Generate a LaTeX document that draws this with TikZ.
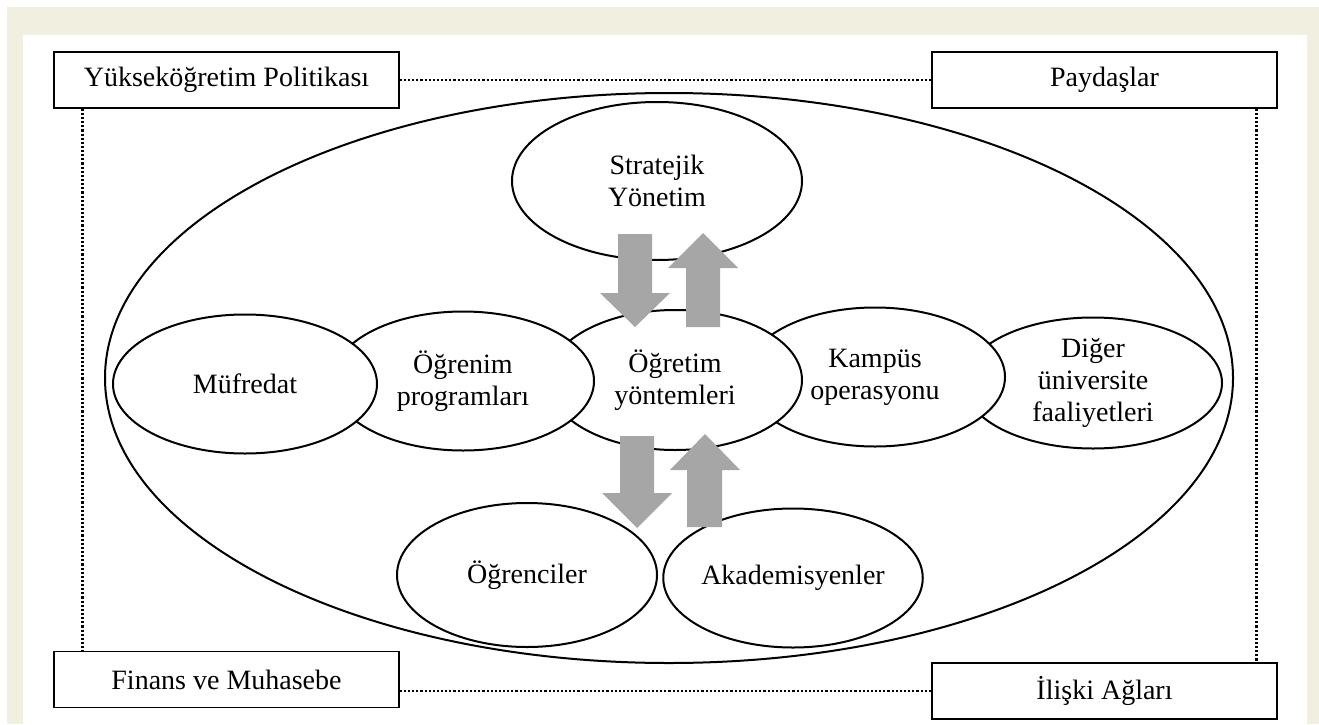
\documentclass[tikz,border=0pt]{standalone}
\usepackage{fontspec}
\setmainfont{Liberation Serif}
\usetikzlibrary{shapes.geometric}
\definecolor{pagebeige}{RGB}{241,239,224}
\definecolor{arrowgray}{RGB}{166,166,166}
\tikzset{
  blob/.style={ellipse, draw, fill=white, line width=1.5pt, inner sep=0pt, align=center},
  areabox/.style={rectangle, draw, fill=white, line width=1.1pt, minimum width=258.75pt, minimum height=42pt, inner sep=0pt},
  linkdots/.style={line width=1.9pt, dash pattern=on 1.6pt off 1.5pt},
  blockarrow/.style={fill=arrowgray, draw=none}
}
\begin{document}
\begin{tikzpicture}[x=0.75pt,y=0.75pt,yscale=-1,xscale=1,font=\fontsize{21}{24}\selectfont]
\useasboundingbox (0,0) rectangle (1319,724);

%Shape: Rectangle [frame]
\fill[pagebeige] (7,7) rectangle (1319,724);
\fill[white] (23,35) rectangle (1307,724);

%Shape: Ellipse [university]
\node[ellipse, draw, line width=1.5pt, minimum width=846pt, minimum height=427.5pt] (uni) at (669,378) {};

%Shape: Ellipse [row of activities, drawn from right to left]
\node[blob, minimum width=193.5pt, minimum height=98.25pt] (diger) at (1093,383) {Diğer\\üniversite\\faaliyetleri};
\node[blob, minimum width=195pt, minimum height=104.25pt] (kampus) at (875,377) {Kampüs\\operasyonu};
\node[blob, minimum width=190.5pt, minimum height=105pt] (ogretim) at (675,380) {Öğretim\\yöntemleri};
\node[blob, minimum width=196.5pt, minimum height=104.25pt] (ogrenim) at (463,381) {Öğrenim\\programları};
\node[blob, minimum width=198pt, minimum height=104.25pt] (mufredat) at (245,384) {Müfredat};

%Shape: Ellipse [top and bottom]
\node[blob, minimum width=217.5pt, minimum height=118.5pt] (strat) at (657,181) {Stratejik\\Yönetim};
\node[blob, minimum width=195pt, minimum height=108pt] (ogrenci) at (527,575) {Öğrenciler};
\node[blob, minimum width=192pt, minimum height=104.25pt] (akadem) at (793,578) {Akademisyenler};

%Shape: Down Arrow / Up Arrow [strategy <-> methods]
\fill[blockarrow] (618,234) -- (652,234) -- (652,293) -- (670,293) -- (635,327) -- (600,293) -- (618,293) -- cycle ;
\fill[blockarrow] (686,327) -- (720,327) -- (720,268) -- (738,268) -- (703,233) -- (668,268) -- (686,268) -- cycle ;
%Shape: Down Arrow / Up Arrow [methods <-> students, academics]
\fill[blockarrow] (620,436) -- (654,436) -- (654,493) -- (672,493) -- (637,528) -- (602,493) -- (620,493) -- cycle ;
\fill[blockarrow] (687,527) -- (722,527) -- (722,470) -- (740,470) -- (705,434) -- (670,470) -- (687,470) -- cycle ;

% Text Node [corner boxes]
\node[areabox] (pol) at (226.5,80) {Yükseköğretim Politikası};
\node[areabox] (pay) at (1104.5,80) {Paydaşlar};
\node[areabox] (fin) at (226.5,679.5) {Finans ve Muhasebe};
\node[areabox] (ili) at (1104.5,691) {İlişki Ağları};

%Straight Lines [dotted links]
\draw[linkdots] (pol.east) -- (pay.west) ;
\draw[linkdots] (fin.east |- ili.west) -- (ili.west) ;
\draw[linkdots] ([xshift=21.75pt]pol.south west) -- ([xshift=21.75pt]fin.north west) ;
\draw[linkdots] ([xshift=-15.75pt]pay.south east) -- ([xshift=-15.75pt]ili.north east) ;

\end{tikzpicture}
\end{document}
